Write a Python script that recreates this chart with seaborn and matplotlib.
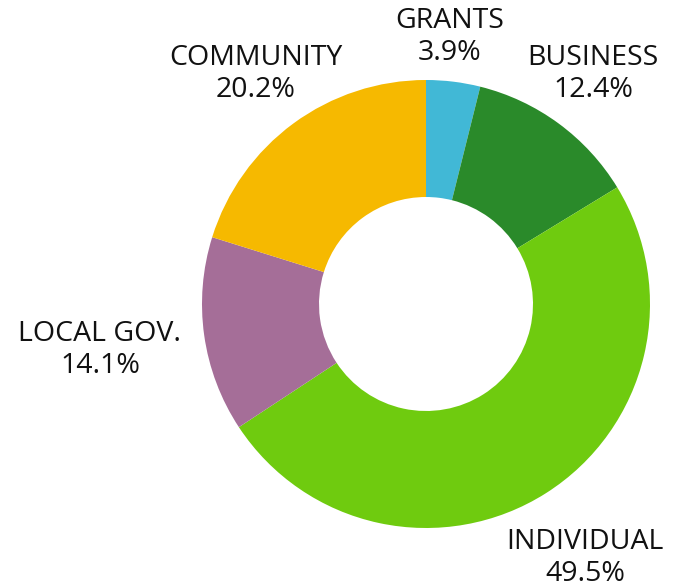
import matplotlib
matplotlib.use("Agg")
import matplotlib.pyplot as plt
import seaborn as sns

categories = ["GRANTS", "BUSINESS", "INDIVIDUAL", "LOCAL GOV.", "COMMUNITY"]
values = [3.9, 12.4, 49.5, 14.1, 20.2]
colors = ["#41B8D6", "#2A8A2A", "#6FCB0F", "#A56E98", "#F6B900"]
# label anchor positions (pixel-like data units relative to pie centre)
label_pos = [(24, 267), (167, 230), (159, -254), (-326, -46), (-170, 230)]

sns.set_theme(style="white")
plt.rcParams['font.family'] = ['Open Sans', 'DejaVu Sans']

fig = plt.figure(figsize=(6.75, 5.88), dpi=100)
ax = fig.add_axes([0, 0, 1, 1])
ax.pie(values, colors=colors, startangle=90, counterclock=False, radius=224,
       wedgeprops=dict(width=117, edgecolor="none"))
ax.set_xlim(-426, 249)
ax.set_ylim(-284, 304)
ax.set_aspect("equal")
ax.axis("off")

for cat, val, (x, y) in zip(categories, values, label_pos):
    ax.text(x, y, f"{cat}\n{val:.1f}%", ha="center", va="center",
            fontsize=20.5, color="#111111", linespacing=1.2, fontweight="normal")

fig.savefig("out.png", dpi=100)
